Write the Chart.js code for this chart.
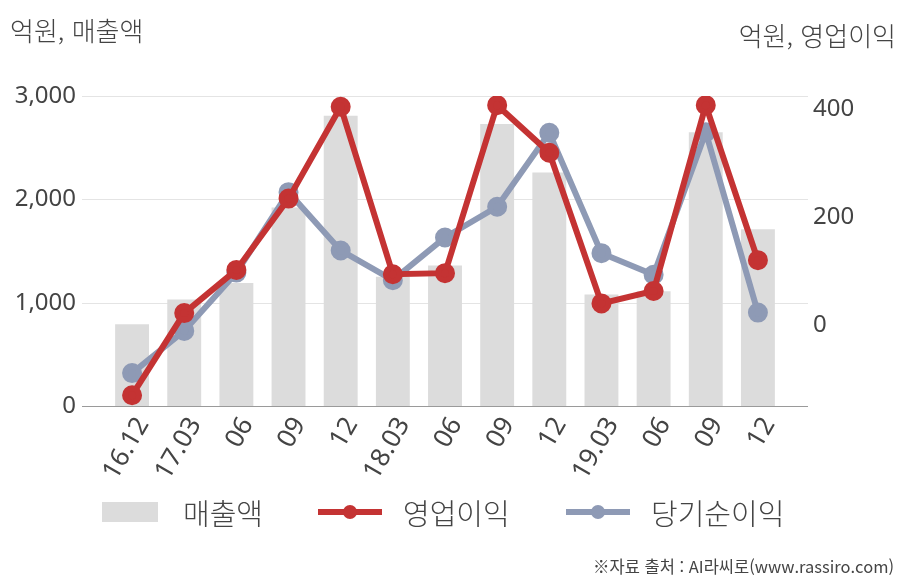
<!DOCTYPE html>
<html lang="ko">
<head>
<meta charset="utf-8">
<script src="https://cdn.jsdelivr.net/npm/chart.js@4"></script>
<style>
    body { margin: 0; background: #fff; font-family: "Noto Sans CJK KR", "Noto Sans", sans-serif; color: #444; }
    #wrap { position: relative; width: 908px; height: 580px; overflow: hidden; }
    #chart { position: absolute; left: 0; top: 0; }
    .title { position: absolute; font-size: 26px; top: 11px; white-space: nowrap; font-weight: 300; }
    .legend { position: absolute; top: 491px; font-size: 29px; white-space: nowrap; display: flex; align-items: center; font-weight: 300; }
    .swatch-bar { display: inline-block; width: 56px; height: 20px; background: #dcdcdc; margin-right: 25px; }
    .swatch-line { position: relative; display: inline-block; width: 64px; height: 6px; margin-right: 21px; }
    .swatch-line i { position: absolute; left: 25px; top: -4px; width: 14px; height: 14px; border-radius: 50%; }
    #source { position: absolute; right: 14px; top: 554px; font-size: 16.5px; white-space: nowrap; }
</style>
</head>
<body>
<div id="wrap">
    <canvas id="chart" width="908" height="580"></canvas>
    <div class="title" style="left:10px">억원, 매출액</div>
    <div class="title" style="right:12px; top:16px">억원, 영업이익</div>
    <div class="legend" style="left:102px"><span class="swatch-bar"></span>매출액</div>
    <div class="legend" style="left:318px"><span class="swatch-line" style="background:#c43333"><i style="background:#c43333"></i></span>영업이익</div>
    <div class="legend" style="left:566px"><span class="swatch-line" style="background:#8e9ab5"><i style="background:#8e9ab5"></i></span>당기순이익</div>
    <div id="source">※자료 출처 : AI라씨로(www.rassiro.com)</div>
</div>
<script>
    // Quarter labels
    const quarters = ['16.12', '17.03', '06', '09', '12', '18.03', '06', '09', '12', '19.03', '06', '09', '12'];

    // 매출액 (left axis, 억원)
    const sales = [790, 1030, 1190, 1920, 2810, 1250, 1360, 2730, 2260, 1080, 1110, 2650, 1710];

    // 영업이익 / 당기순이익 (right axis, 억원)
    const operatingProfit = [-130, 22, 102, 234, 404, 94, 96, 407, 319, 40, 63, 407, 120];
    const netProfit = [-89, -11, 97, 246, 138, 83, 162, 219, 356, 133, 93, 357, 23];

    // Axis ticks
    const leftTicks = [0, 1000, 2000, 3000];
    const rightTicks = [0, 200, 400];

    // Draw horizontal grid lines a bit wider than the plot area, like the original
    const wideGrid = {
        id: 'wideGrid',
        beforeDatasetsDraw(chart) {
            const { ctx, chartArea, scales } = chart;
            const y = scales.y;
            ctx.save();
            ctx.lineWidth = 1;
            leftTicks.forEach(v => {
                const py = Math.round(y.getPixelForValue(v)) + 0.5;
                ctx.strokeStyle = v === 0 ? '#9a9a9a' : '#e4e4e4';
                ctx.beginPath();
                ctx.moveTo(chartArea.left - 24, py);
                ctx.lineTo(chartArea.right + 24, py);
                ctx.stroke();
            });
            ctx.restore();
        }
    };

    const tickFont = { family: '"Noto Sans", "Noto Sans CJK KR", sans-serif', size: 24 };

    new Chart(document.getElementById('chart'), {
        type: 'bar',
        data: {
            labels: quarters,
            datasets: [
                {
                    type: 'line',
                    label: '영업이익',
                    data: operatingProfit,
                    yAxisID: 'y1',
                    borderColor: '#c43333',
                    backgroundColor: '#c43333',
                    borderWidth: 6,
                    pointRadius: 7,
                    pointHoverRadius: 7,
                    tension: 0,
                    order: 0
                },
                {
                    type: 'line',
                    label: '당기순이익',
                    data: netProfit,
                    yAxisID: 'y1',
                    borderColor: '#8e9ab5',
                    backgroundColor: '#8e9ab5',
                    borderWidth: 6,
                    pointRadius: 7,
                    pointHoverRadius: 7,
                    tension: 0,
                    order: 1
                },
                {
                    label: '매출액',
                    data: sales,
                    yAxisID: 'y',
                    backgroundColor: '#dcdcdc',
                    barPercentage: 0.65,
                    categoryPercentage: 1,
                    order: 2
                }
            ]
        },
        options: {
            responsive: false,
            animation: false,
            layout: { padding: { top: 96, bottom: 0, left: 0, right: 0 } },
            plugins: {
                legend: { display: false },
                tooltip: { enabled: false }
            },
            scales: {
                x: {
                    grid: { display: false, drawTicks: false },
                    border: { display: false },
                    ticks: {
                        color: '#444',
                        font: { ...tickFont, size: 26 },
                        minRotation: 60,
                        maxRotation: 60,
                        padding: 6,
                        labelOffset: 11,
                        autoSkip: false
                    },
                    afterFit: s => { s.height = 174; }
                },
                y: {
                    position: 'left',
                    min: 0,
                    max: 3000,
                    grid: { display: false, drawTicks: false },
                    border: { display: false },
                    ticks: { color: '#444', font: tickFont, padding: 30, stepSize: 1000 },
                    afterBuildTicks: s => { s.ticks = leftTicks.map(v => ({ value: v })); },
                    afterFit: s => { s.width = 106; }
                },
                y1: {
                    position: 'right',
                    min: -150,
                    max: 424,
                    grid: { display: false, drawTicks: false },
                    border: { display: false },
                    ticks: { color: '#444', font: tickFont, padding: 29 },
                    afterBuildTicks: s => { s.ticks = rightTicks.map(v => ({ value: v })); },
                    afterFit: s => { s.width = 124; }
                }
            }
        },
        plugins: [wideGrid]
    });
</script>
</body>
</html>
